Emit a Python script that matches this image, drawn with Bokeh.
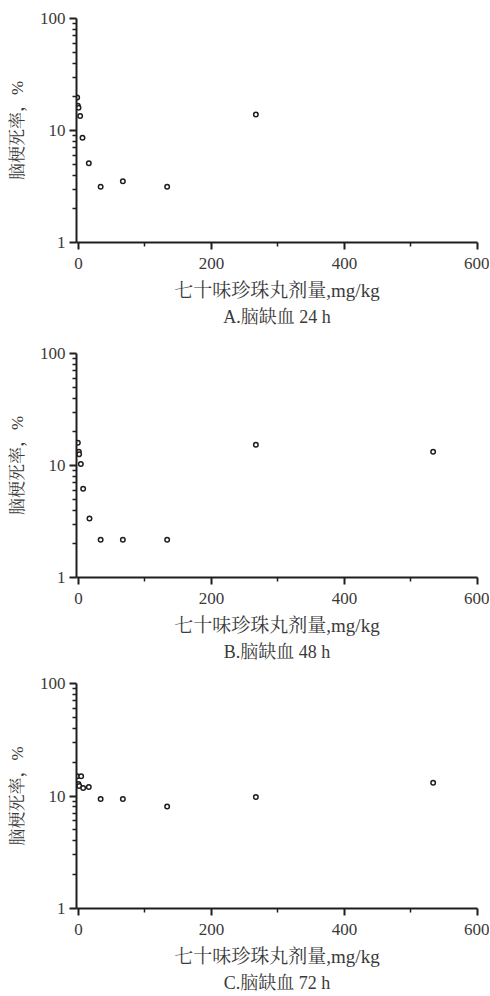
from bokeh.plotting import figure
from bokeh.layouts import column
from bokeh.models import Range1d, FixedTicker, Title
from bokeh.embed import file_html
from bokeh.resources import INLINE

# ---- data ----
x_ticks = [0, 200, 400, 600]
x_minor = [100, 300, 500]
y_ticks = [1, 10, 100]

dose_a = [-2, -1, 0, 2.5, 6, 15.5, 33.3, 66.7, 133.3, 266.7]
rate_a = [19.7, 16.6, 16.0, 13.5, 8.6, 5.1, 3.14, 3.53, 3.14, 13.9]

dose_b = [-1, 0.5, 1, 3.5, 7, 16.5, 33.3, 66.7, 133.3, 266.7, 533.3]
rate_b = [16.0, 13.3, 12.6, 10.3, 6.2, 3.37, 2.17, 2.17, 2.17, 15.3, 13.3]

dose_c = [-2, 4, 0, 1, 7, 15.5, 33.3, 66.7, 133.3, 266.7, 533.3]
rate_c = [15.0, 15.0, 12.8, 12.3, 11.8, 12.0, 9.4, 9.4, 8.05, 9.8, 13.1]

x_label = "七十味珍珠丸剂量,mg/kg"
y_label = "脑梗死率，%"
captions = ["A.脑缺血 24 h", "B.脑缺血 48 h", "C.脑缺血 72 h"]

FONT = "'Liberation Serif', 'Noto Serif CJK SC', 'Noto Sans CJK SC', serif"
INK = "#1e1e1e"
TXT = "#3a3a3a"


def panel(xs, ys, caption, height, top, bottom):
    p = figure(width=489, height=height,
               x_range=Range1d(-3, 600), y_range=Range1d(1, 100),
               y_axis_type="log", output_backend="svg", toolbar_location=None,
               min_border_left=76, min_border_right=12,
               min_border_top=top, min_border_bottom=bottom)
    p.outline_line_color = None
    p.grid.visible = False
    p.background_fill_color = "white"
    p.border_fill_color = "white"

    p.xaxis.ticker = FixedTicker(ticks=x_ticks, minor_ticks=x_minor)
    minors = [v * m for v in (1, 10) for m in range(2, 10)]
    p.yaxis.ticker = FixedTicker(ticks=y_ticks, minor_ticks=minors)
    p.yaxis.major_label_overrides = {1: "1", 10: "10", 100: "100"}

    for ax in (p.xaxis, p.yaxis):
        ax.axis_line_color = INK
        ax.axis_line_width = 2
        ax.major_tick_line_color = INK
        ax.major_tick_line_width = 2
        ax.minor_tick_line_color = INK
        ax.minor_tick_line_width = 1.5
        ax.major_tick_in = 0
        ax.major_tick_out = 7
        ax.minor_tick_in = 0
        ax.minor_tick_out = 4
        ax.major_label_text_font = FONT
        ax.major_label_text_font_size = "17px"
        ax.major_label_text_color = TXT
        ax.axis_label_text_font = FONT
        ax.axis_label_text_font_style = "normal"
        ax.axis_label_text_color = TXT
    p.xaxis.axis_label = x_label
    p.yaxis.axis_label = y_label
    p.xaxis.axis_label_text_font_size = "19px"
    p.yaxis.axis_label_text_font_size = "17px"
    p.xaxis.major_label_standoff = 8
    p.xaxis.axis_label_standoff = 8
    p.yaxis.major_label_standoff = 4
    p.yaxis.axis_label_standoff = 10

    p.scatter(xs, ys, marker="circle", size=4.5, fill_color="white",
              line_color=INK, line_width=1.5)

    p.add_layout(Title(text=caption, align="center", text_font=FONT,
                       text_font_size="18px", text_font_style="normal",
                       text_color=TXT, standoff=2), "below")
    return p


pa = panel(dose_a, rate_a, captions[0], 336, 18, 94)
pb = panel(dose_b, rate_b, captions[1], 330, 17, 89)
pc = panel(dose_c, rate_c, captions[2], 328, 17, 86)

layout = column(pa, pb, pc, spacing=0)
open("out.html", "w").write(file_html(layout, INLINE))
